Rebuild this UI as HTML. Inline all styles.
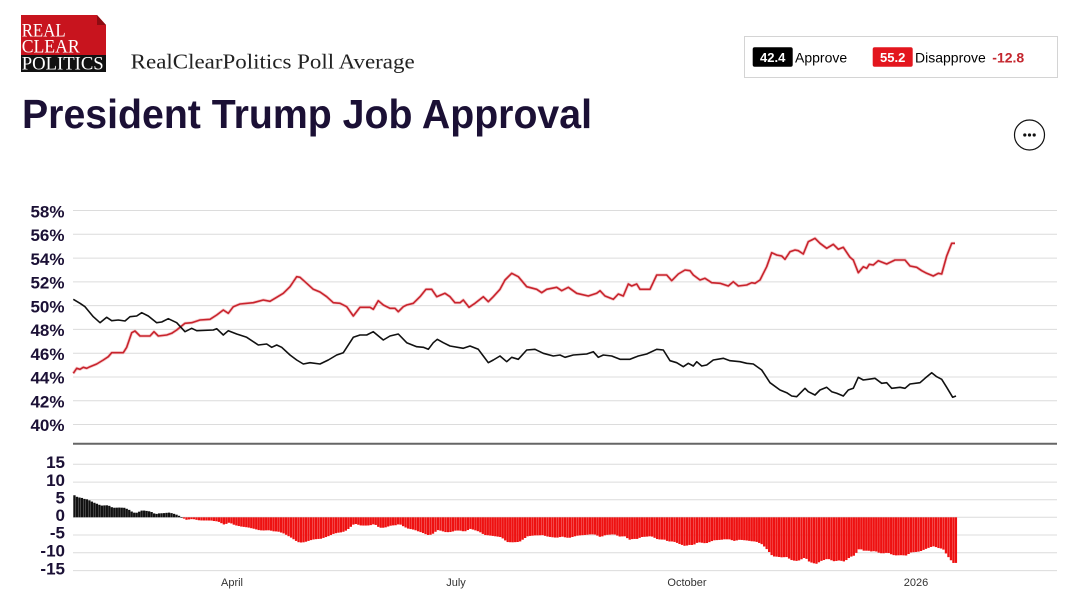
<!DOCTYPE html>
<html><head><meta charset="utf-8"><style>
html,body{margin:0;padding:0;background:#fff;}
svg{display:block;}
</style></head><body>
<svg id="s" width="1072" height="605" viewBox="0 0 1072 605" xmlns="http://www.w3.org/2000/svg" font-family="'Liberation Sans', Arial, sans-serif">
<rect width="1072" height="605" fill="#fff"/>
<!-- Logo -->
<polygon points="21,15 97,15 106,25 106,56 21,56" fill="#c8141e"/>
<polygon points="97,15 106,25 97,25" fill="#8e0c12"/>
<rect x="21" y="55" width="85" height="17" fill="#111"/>
<text x="21.7" y="36.7" font-family="'Liberation Serif', serif" font-size="19" fill="#fff" textLength="44" lengthAdjust="spacingAndGlyphs">REAL</text>
<text x="21.7" y="52.7" font-family="'Liberation Serif', serif" font-size="19" fill="#fff" textLength="58" lengthAdjust="spacingAndGlyphs">CLEAR</text>
<text x="21.7" y="69.3" font-family="'Liberation Serif', serif" font-size="19" fill="#fff" textLength="82" lengthAdjust="spacingAndGlyphs">POLITICS</text>
<text x="130.7" y="68.5" font-family="'Liberation Serif', serif" font-size="21" fill="#222" textLength="284" lengthAdjust="spacingAndGlyphs">RealClearPolitics Poll Average</text>
<!-- Title -->
<text x="22" y="128" font-size="41" font-weight="bold" fill="#1b1035" textLength="570" lengthAdjust="spacingAndGlyphs">President Trump Job Approval</text>
<!-- Legend -->
<rect x="744.5" y="36.5" width="313" height="41" fill="#fff" stroke="#d4d4d4" stroke-width="1"/>
<rect x="752.7" y="47.3" width="40" height="19.4" rx="2" fill="#000"/>
<text x="772.7" y="62" font-size="13" font-weight="bold" fill="#fff" text-anchor="middle">42.4</text>
<text x="795" y="62.5" font-size="14" fill="#000">Approve</text>
<rect x="872.7" y="47.3" width="40" height="19.4" rx="2" fill="#e3161e"/>
<text x="892.7" y="62" font-size="13" font-weight="bold" fill="#fff" text-anchor="middle">55.2</text>
<text x="915" y="62.5" font-size="14" fill="#000">Disapprove</text>
<text x="992.3" y="62.5" font-size="14" font-weight="bold" fill="#c4262e">-12.8</text>
<!-- ellipsis -->
<circle cx="1029.5" cy="135" r="15" fill="none" stroke="#111" stroke-width="1.2"/>
<circle cx="1024.8" cy="135" r="1.6" fill="#111"/>
<circle cx="1029.5" cy="135" r="1.6" fill="#111"/>
<circle cx="1034.2" cy="135" r="1.6" fill="#111"/>
<!-- top grid -->
<g stroke="#dcdcdc" stroke-width="1">
<line x1="73" x2="1057" y1="210.5" y2="210.5"/>
<line x1="73" x2="1057" y1="234.3" y2="234.3"/>
<line x1="73" x2="1057" y1="258.1" y2="258.1"/>
<line x1="73" x2="1057" y1="281.9" y2="281.9"/>
<line x1="73" x2="1057" y1="305.6" y2="305.6"/>
<line x1="73" x2="1057" y1="329.4" y2="329.4"/>
<line x1="73" x2="1057" y1="353.2" y2="353.2"/>
<line x1="73" x2="1057" y1="377" y2="377"/>
<line x1="73" x2="1057" y1="400.7" y2="400.7"/>
<line x1="73" x2="1057" y1="424.5" y2="424.5"/>
</g>
<g font-size="17" font-weight="bold" fill="#1b1035" text-anchor="end">
<text x="64.5" y="217.3">58%</text>
<text x="64.5" y="241">56%</text>
<text x="64.5" y="264.8">54%</text>
<text x="64.5" y="288.6">52%</text>
<text x="64.5" y="312.3">50%</text>
<text x="64.5" y="336.1">48%</text>
<text x="64.5" y="359.9">46%</text>
<text x="64.5" y="383.6">44%</text>
<text x="64.5" y="407.3">42%</text>
<text x="64.5" y="431">40%</text>
</g>
<!-- separator -->
<line x1="73" x2="1057" y1="443.8" y2="443.8" stroke="#666" stroke-width="2"/>
<!-- bottom grid -->
<g stroke="#dcdcdc" stroke-width="1">
<line x1="73" x2="1057" y1="464.3" y2="464.3"/>
<line x1="73" x2="1057" y1="482.1" y2="482.1"/>
<line x1="73" x2="1057" y1="499.7" y2="499.7"/>
<line x1="73" x2="1057" y1="517.3" y2="517.3"/>
<line x1="73" x2="1057" y1="535" y2="535"/>
<line x1="73" x2="1057" y1="552.8" y2="552.8"/>
<line x1="73" x2="1057" y1="570.6" y2="570.6"/>
</g>
<g font-size="17" font-weight="bold" fill="#1b1035" text-anchor="end">
<text x="65" y="468">15</text>
<text x="65" y="485.8">10</text>
<text x="65" y="503.4">5</text>
<text x="65" y="521">0</text>
<text x="65" y="538.7">-5</text>
<text x="65" y="556.5">-10</text>
<text x="65" y="574.3">-15</text>
</g>
<g font-size="11" fill="#333" text-anchor="middle">
<text x="232" y="586">April</text>
<text x="456" y="586">July</text>
<text x="687" y="586">October</text>
<text x="916" y="586">2026</text>
</g>
<g id="bars"></g>
<g id="halo"></g>
<!-- lines -->
<polyline id="red" fill="none" stroke="#c8232c" stroke-width="1.6" stroke-linejoin="round" points="73.3,373.3 76.7,368.3 80,369.3 83.3,367.3 86.7,368.3 90,366.7 96.7,364 103.3,360 108.3,356.7 111.7,352.7 123.3,352.7 126.7,347.3 131.7,332.7 135,331 140,336 150,336 154,331.7 158.3,336 166.7,335 171.7,333.3 176.7,330 185,323.3 191.7,322.7 200,320 210,319.3 216.7,315 223.3,310 228.3,313.3 233.3,306.7 240,304 253.3,302.7 263.3,300 270,301.3 276.7,297.3 283.3,293.3 290,286.7 296.7,276.7 300,277.3 306.7,283.3 313.3,289.3 320,292 326.7,296.7 333.3,302.7 340,303.3 346.7,306.7 353.3,316 360,307.3 370,307.3 373.3,309.3 378.3,300.7 383.3,305 390,308.3 395,308.3 398.3,311.7 403.3,306.7 406.7,305 413.3,303.3 420,296.7 426,289.3 431.7,289.3 436.7,296.7 445,293.3 450,296.7 455,302.7 460,302.7 463.3,300 469,307.3 475,303.3 483.3,296.7 488.3,301.7 493.3,296.7 500,289.3 505,280 511.7,273.3 518.3,276.7 526.7,286.7 536.7,289.3 541.7,292.7 546.7,289.3 556.7,287.3 561.7,290.7 568.3,287.3 576.7,293.3 588.3,296 596.7,293.3 600,290.7 605,296 613.3,299.3 618.3,294 623.3,296 628.3,284 631.7,286 636.7,284 640,289.3 650,289.3 656.7,275 666.7,275 671.7,280.7 678.3,274 685,270 690,270.7 693.3,275 700,280 705,278.3 711.7,282.7 720,283.3 728.3,286 733.3,281.7 738.3,286 746.7,285 751.7,282.7 755,283.3 760,280 766.7,266.7 771.7,252.7 776.7,255 781.7,256 785,259.3 790,251.7 795,250 798.3,250.7 803.3,254 808.3,241.7 811.7,240 815,238.3 820,243.3 826.7,248.3 833.3,244.3 838.3,249.3 843.3,247.3 850,257.3 853.3,260 858.3,272.7 863.3,266.7 866.7,268.3 869.3,264.3 873.3,265 878.3,260.7 886.7,264 895,260 905,260 910,266 916.7,267.3 921.7,270.7 926.7,273.3 933.3,276 938.3,273.3 941.7,274 946.7,256 951.7,243.3 955,243.3"/>
<polyline id="blk" fill="none" stroke="#111" stroke-width="1.6" stroke-linejoin="round" points="73.3,299.3 80,303.3 85,306.7 93.3,316.7 100,322.7 106.7,317.3 111.7,320.7 118.3,320 125,321 130,316.7 136.7,316 141.7,312.7 148.3,316 156.7,322.7 161.7,322 168.3,318.7 176.7,322.7 185,331.7 191.7,328.3 196.7,330.7 213.3,330 216.7,328.7 223.3,335 228.3,330.7 236.7,334 246.7,337.3 258.3,345 266.7,344 271.7,347.3 276.7,345 281.7,347.3 290,355 296.7,360 303.3,364 310,362.7 320,364 328.3,360 336.7,355 343.3,352.7 353.3,337.3 360,335 366.7,335 373.3,331.7 383.3,340 390,336 398.3,334 406.7,342.7 416.7,346.7 423.3,347.3 428.3,349.3 433.3,342.7 437.3,339.3 443.3,342.7 450,346 463.3,348.3 470,346 478.3,349.3 483.3,356 488.3,362.7 493.3,360 500,356 506.7,361.7 511.7,357.3 518.3,359.3 526.7,350 535,349.3 543.3,353.3 553.3,356 560,355 565,357.3 573.3,355 586.7,354 593.3,351.7 598.3,357.3 603.3,355 611.7,356 620,359.3 630,359.3 638.3,356 646.7,354 656.7,349.3 663.3,350 670,360.7 676.7,362.7 683.3,366.7 688.3,363.3 693.3,366 696.7,361.7 701.7,366 706.7,365 713.3,360 723.3,358.3 730,360.7 740,361.7 746.7,363.3 753.3,364 761.7,370 770,382.7 780,390 786.7,392.7 791.7,396 796.7,396.7 805,388.3 808.3,391.7 815,395 820,390 826.7,387.3 831.7,391.7 836.7,393.3 843.3,396 848.3,390 853.3,388.3 858.3,377.3 863.3,380 868.3,379.3 875,378.3 881.7,383.3 886.7,382.7 891.7,388.3 900,387.3 905,388.3 910,384 920,382.7 925,378.3 931.7,372.7 936.7,376.7 941.7,379.3 946.7,387.3 952.7,397.3 956,396"/>
</svg>
<script>
(function(){
  function parse(id){
    var s=document.getElementById(id).getAttribute('points').trim().split(/\s+/);
    return s.map(function(p){var a=p.split(',');return [parseFloat(a[0]),parseFloat(a[1])];});
  }
  function interp(pts,x){
    if(x<=pts[0][0])return pts[0][1];
    for(var i=1;i<pts.length;i++){
      if(x<=pts[i][0]){var a=pts[i-1],b=pts[i];var t=(x-a[0])/(b[0]-a[0]);return a[1]+t*(b[1]-a[1]);}
    }
    return pts[pts.length-1][1];
  }
  var R=parse('red'),B=parse('blk');
  var g=document.getElementById('bars');
  var z=517.3, k=3.54/11.89;
  var html='';
  for(var x=73.3;x<=955.5;x+=2.49){
    var yr=interp(R,x), yb=interp(B,x);
    var d=(yr-yb)*k;
    var top,h,col;
    if(d>=0){top=z-d;h=d;col='#111';}else{top=z;h=-d;col='#ee1111';}
    if(h<0.6)h=0.6;
    html+='<rect x="'+x.toFixed(2)+'" y="'+top.toFixed(2)+'" width="2.3" height="'+h.toFixed(2)+'" fill="'+col+'"/>';
  }
  g.innerHTML=html;
  var pts=document.getElementById('red').getAttribute('points');
  document.getElementById('halo').innerHTML='<polyline fill="none" stroke="#f2b8bb" stroke-opacity="0.7" stroke-width="3.2" stroke-linejoin="round" points="'+pts+'"/>';
})();
</script>
</body></html>
